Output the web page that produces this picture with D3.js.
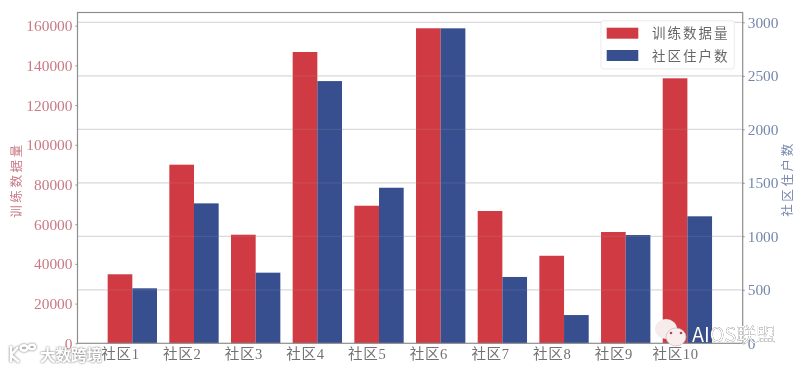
<!DOCTYPE html>
<html><head><meta charset="utf-8">
<script src="https://cdn.jsdelivr.net/npm/d3@7"></script>
<style>
html,body{margin:0;padding:0;background:#fff}
svg{display:block;filter:blur(0.5px)}
text{font-family:"Liberation Serif","Noto Sans CJK SC",serif}
</style></head><body><div id="c"></div>
<script>
const categories=["社区1","社区2","社区3","社区4","社区5","社区6","社区7","社区8","社区9","社区10"];
const trainingData=[34760,89980,54700,146750,69300,158700,66650,44100,56070,133500];
const households=[514,1308,660,2451,1454,2944,620,264,1012,1187];
const leftTicks=[0,20000,40000,60000,80000,100000,120000,140000,160000];
const rightTicks=[0,500,1000,1500,2000,2500,3000];
const seriesNames=["训练数据量","社区住户数"];

const W=803,H=369,L=77.5,R=742.7,T=12.5,B=343.3;
const RED="#cf3a43",BLUE="#374f8f",REDT="#c97a84",BLUET="#7688ae",FRAME="#8e8e8e";
const barW=0.4;
const x=d3.scaleLinear().domain([0.311,11.097]).range([L,R]);
const yL=d3.scaleLinear().domain([0,166650]).range([B,T]);
const yR=d3.scaleLinear().domain([0,3092]).range([B,T]);
const svg=d3.select("#c").append("svg").attr("width",W).attr("height",H);
const idx=categories.map((d,i)=>i+1);

// grid from the right axis, under the bars
svg.append("g").selectAll("line").data(rightTicks.slice(1)).join("line")
 .attr("x1",L).attr("x2",R).attr("y1",d=>yR(d)).attr("y2",d=>yR(d))
 .attr("stroke","#dcdce2").attr("stroke-width",1.2);

// red bars
svg.append("g").selectAll("rect").data(trainingData).join("rect")
 .attr("x",(d,i)=>x(idx[i]-barW/2)).attr("width",x(barW)-x(0))
 .attr("y",d=>yL(d)).attr("height",d=>B-yL(d)).attr("fill",RED);
// blue bars
svg.append("g").selectAll("rect").data(households).join("rect")
 .attr("x",(d,i)=>x(idx[i]+barW/2)).attr("width",x(barW)-x(0))
 .attr("y",d=>yR(d)).attr("height",d=>B-yR(d)).attr("fill",BLUE);

// faint trace of the grid across the bars
svg.append("g").selectAll("line").data(rightTicks.slice(1)).join("line")
 .attr("x1",L).attr("x2",R).attr("y1",d=>yR(d)).attr("y2",d=>yR(d))
 .attr("stroke","#c4c4cc").attr("stroke-opacity",0.12).attr("stroke-width",1.2);

// frame
svg.append("rect").attr("x",L).attr("y",T).attr("width",R-L).attr("height",B-T)
 .attr("fill","none").attr("stroke",FRAME).attr("stroke-width",1.2);

function style(g,col,size){
 g.select(".domain").remove();
 g.selectAll(".tick line").attr("stroke",FRAME);
 g.selectAll(".tick text").attr("fill",col).style("font-size",size+"px").style("font-family",'"Liberation Serif","Noto Sans CJK SC",serif');
}
svg.append("g").attr("transform",`translate(${L},0)`)
 .call(d3.axisLeft(yL).tickValues(leftTicks).tickFormat(d3.format("d")).tickSize(2).tickPadding(3))
 .call(style,REDT,15.4);
svg.append("g").attr("transform",`translate(${R},0)`)
 .call(d3.axisRight(yR).tickValues(rightTicks).tickFormat(d3.format("d")).tickSize(2).tickPadding(3))
 .call(style,BLUET,15.4);
svg.append("g").attr("transform",`translate(0,${B})`)
 .call(d3.axisBottom(x).tickValues(idx).tickFormat((d,i)=>categories[i]).tickSize(0).tickPadding(5))
 .call(style,"#727272",14.6)
 .selectAll("text").style("letter-spacing","0.6px");

// axis titles
svg.append("text").text(seriesNames[0]).attr("transform","translate(17,180) rotate(-90)")
 .attr("text-anchor","middle").attr("dominant-baseline","central")
 .attr("fill",REDT).style("font-size","12.5px").style("letter-spacing","2.6px");
svg.append("text").text(seriesNames[1]).attr("transform","translate(788,179) rotate(-90)")
 .attr("text-anchor","middle").attr("dominant-baseline","central")
 .attr("fill",BLUET).style("font-size","12.5px").style("letter-spacing","2.6px");

// legend
const lg=svg.append("g");
lg.append("rect").attr("x",601).attr("y",20.7).attr("width",133.3).attr("height",48.3).attr("rx",2.5)
 .attr("fill","#fff").attr("fill-opacity",0.9).attr("stroke","#e6e6e6").attr("stroke-width",0.8);
[RED,BLUE].forEach((c,i)=>{
 lg.append("rect").attr("x",606.7).attr("y",27.7+i*22.3).attr("width",31.6).attr("height",11).attr("fill",c);
 lg.append("text").text(seriesNames[i]).attr("x",652).attr("y",33.5+i*22.5).attr("dominant-baseline","central")
  .attr("fill","#666").style("font-size","13.5px").style("letter-spacing","2px");
});

// watermarks
const wm=svg.append("g");
const shadow="drop-shadow(0 0 1px rgba(70,70,70,.8))";
wm.append("text").text("大数跨境").attr("x",40).attr("y",355).attr("dominant-baseline","central")
 .attr("fill","#fff").style("font-size","15.5px").style("font-weight","700").style("filter",shadow);
const ic=wm.append("g").attr("fill","none").attr("stroke","#fff").attr("stroke-width",2.6).style("filter",shadow);
ic.append("path").attr("d","M11 346 V362 M11 355 L18 347 M11 355 L19 362");
ic.append("ellipse").attr("cx",24).attr("cy",348).attr("rx",3.5).attr("ry",2.6);
ic.append("ellipse").attr("cx",32).attr("cy",347).attr("rx",3).attr("ry",2.2);
wm.append("ellipse").attr("cx",666).attr("cy",329).attr("rx",11).attr("ry",10).attr("fill","#f6ecec");
wm.append("ellipse").attr("cx",676).attr("cy",337).attr("rx",10).attr("ry",9).attr("fill","#f9eeee").attr("stroke","#c9b0b0").attr("stroke-width",0.6);
[[671,333],[681,333]].forEach(p=>wm.append("circle").attr("cx",p[0]).attr("cy",p[1]).attr("r",1.3).attr("fill","#b3474c"));
wm.append("text").text("AIOS联盟").attr("x",692).attr("y",333).attr("dominant-baseline","central")
 .attr("fill","#fff").style("font-family",'"Noto Sans CJK SC",sans-serif').style("font-size","19.8px").style("filter","drop-shadow(0 0 .7px rgba(20,20,20,1))");
</script></body></html>
